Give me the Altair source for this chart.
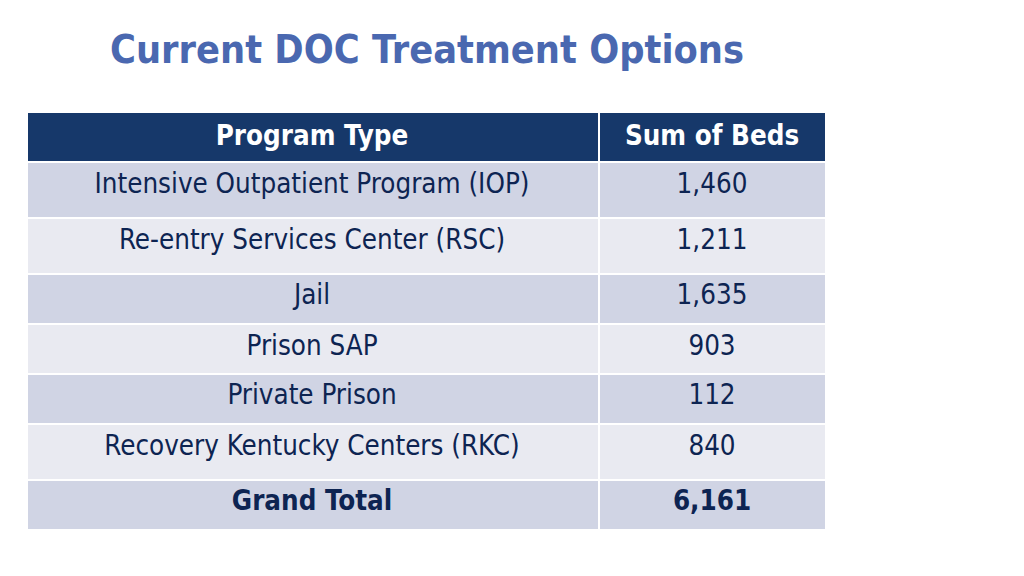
import altair as alt
import pandas as pd

# ---- data ----
title_text = "Current DOC Treatment Options"
headers = ["Program Type", "Sum of Beds"]
programs = [
    "Intensive Outpatient Program (IOP)",
    "Re-entry Services Center (RSC)",
    "Jail",
    "Prison SAP",
    "Private Prison",
    "Recovery Kentucky Centers (RKC)",
]
beds = [1460, 1211, 1635, 903, 112, 840]
total_label = "Grand Total"
total_beds = 6161

# ---- layout (pixel frame of the 1024x576 page) ----
row_edges = [112, 162, 218, 274, 324, 374, 424, 480, 530]
text_y = [137, 185, 241, 296, 347, 396, 447, 502]
col_edges = [27, 599, 826]
col_center = [312, 712]
title_pos = (110, 51)

FONT = "DejaVu Sans Condensed, DejaVu Sans"
HEADER = "#16386A"
DARK = "#D0D4E4"
LIGHT = "#E9EAF1"
INK = "#0D2452"
TITLE = "#4A68B0"

# ---- build tables ----
cells = []
for i in range(len(row_edges) - 1):
    if i == 0:
        kind = "header"
    elif i % 2 == 1:
        kind = "dark"
    else:
        kind = "light"
    for j in range(2):
        cells.append(dict(x=col_edges[j], x2=col_edges[j + 1],
                          y=row_edges[i], y2=row_edges[i + 1], kind=kind))
cells = pd.DataFrame(cells)

texts = []
for j, h in enumerate(headers):
    texts.append(dict(x=col_center[j], y=text_y[0], t=h, role="header"))
for i, (p, b) in enumerate(zip(programs, beds)):
    texts.append(dict(x=col_center[0], y=text_y[i + 1], t=p, role="body"))
    texts.append(dict(x=col_center[1], y=text_y[i + 1], t=f"{b:,}", role="body"))
texts.append(dict(x=col_center[0], y=text_y[-1], t=total_label, role="total"))
texts.append(dict(x=col_center[1], y=text_y[-1], t=f"{total_beds:,}", role="total"))
texts = pd.DataFrame(texts)

title_df = pd.DataFrame([dict(x=title_pos[0], y=title_pos[1], t=title_text)])

xs = alt.Scale(domain=[8, 1016], nice=False, zero=False)
ys = alt.Scale(domain=[8, 568], nice=False, zero=False, reverse=True)

rects = alt.Chart(cells).mark_rect(stroke="white", strokeWidth=2).encode(
    x=alt.X("x:Q", scale=xs, axis=None),
    x2="x2:Q",
    y=alt.Y("y:Q", scale=ys, axis=None),
    y2="y2:Q",
    color=alt.Color("kind:N",
                    scale=alt.Scale(domain=["header", "dark", "light"],
                                    range=[HEADER, DARK, LIGHT]),
                    legend=None),
)

def text_layer(role, color, bold):
    return alt.Chart(texts[texts.role == role]).mark_text(
        font=FONT, fontSize=27.5, fontWeight="bold" if bold else "normal",
        color=color, align="center", baseline="middle",
    ).encode(
        x=alt.X("x:Q", scale=xs, axis=None),
        y=alt.Y("y:Q", scale=ys, axis=None),
        text="t:N",
    )

title = alt.Chart(title_df).mark_text(
    font=FONT, fontSize=39.3, fontWeight="bold", color=TITLE,
    align="left", baseline="middle",
).encode(
    x=alt.X("x:Q", scale=xs, axis=None),
    y=alt.Y("y:Q", scale=ys, axis=None),
    text="t:N",
)

chart = alt.layer(
    rects,
    text_layer("header", "white", True),
    text_layer("body", INK, False),
    text_layer("total", INK, True),
    title,
).properties(
    width=1008, height=560, padding=0, autosize="none", background="white"
).configure_view(stroke=None)

chart.save("out.html", embed_options={"renderer": "svg", "actions": False})
